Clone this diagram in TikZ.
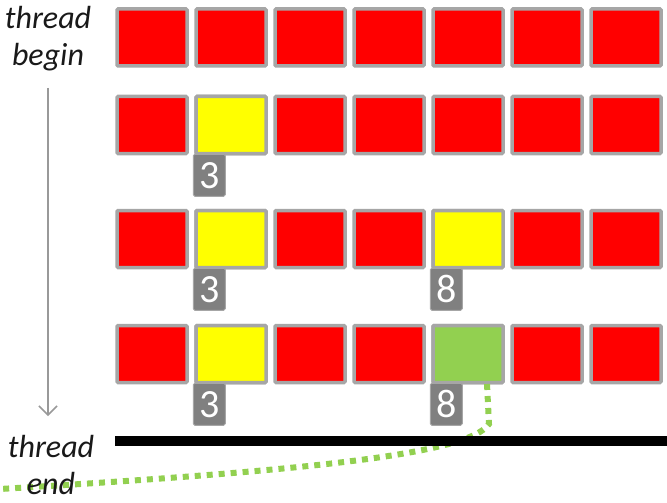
\documentclass[tikz,border=0pt]{standalone}
\usepackage{fontspec}
\setmainfont{Carlito}
\usetikzlibrary{arrows.meta}
\definecolor{cellred}{HTML}{FF0000}
\definecolor{cellyel}{HTML}{FFFF00}
\definecolor{cellgrn}{HTML}{92D050}
\definecolor{cellbrd}{HTML}{A6A6A6}
\definecolor{lblgray}{HTML}{808080}
\definecolor{arrgray}{HTML}{999999}
\tikzset{
  cell/.style={draw=cellbrd, line width=3.5pt, fill=cellred, minimum width=70pt, minimum height=57pt, inner sep=0pt, rounded corners=1pt},
  lbl/.style={draw=lblgray!70, line width=1pt, fill=lblgray, text=white, minimum width=32pt, minimum height=42pt, inner sep=0pt, anchor=north west, font=\fontsize{40}{40}\selectfont, rounded corners=1.5pt},
  sidetext/.style={align=center, font=\fontsize{32}{37}\itshape\selectfont, text=black!90, inner sep=1pt},
  timeline/.style={draw=arrgray, line width=1.5pt, -{Straight Barb[length=9pt,width=18pt,line width=1.5pt]}},
  endbar/.style={draw=black, line width=10pt},
  trace/.style={draw=cellgrn, line width=6pt, dash pattern=on 6pt off 6pt}
}
\begin{document}
\begin{tikzpicture}[x=1pt,y=-1pt]
\useasboundingbox (0,0) rectangle (667,503);
% rows of cells
\foreach \r/\yy in {1/37.5,2/125,3/239,4/354}{
  \foreach \c in {1,...,7}{
    \node[cell] (c\r-\c) at ({152+79*(\c-1)},\yy) {};
  }
}
% yellow and green cells
\node[cell, fill=cellyel] at (c2-2) {};
\node[cell, fill=cellyel] at (c3-2) {};
\node[cell, fill=cellyel] at (c3-5) {};
\node[cell, fill=cellyel] at (c4-2) {};
\node[cell, fill=cellgrn] (g) at (c4-5) {};
% labels
\node[lbl] (l2) at ([xshift=-1.5pt,yshift=1.5pt]c2-2.south west) {3};
\node[lbl] (l3a) at ([xshift=-1.5pt,yshift=1.5pt]c3-2.south west) {3};
\node[lbl] (l3b) at ([xshift=-1.5pt,yshift=1.5pt]c3-5.south west) {8};
\node[lbl] (l4a) at ([xshift=-1.5pt,yshift=1.5pt]c4-2.south west) {3};
\node[lbl] (l4b) at ([xshift=-1.5pt,yshift=1.5pt]c4-5.south west) {8};
% green trace (under the text)
\coordinate (t0) at (487,384);
\coordinate (t1) at (489,424);
\coordinate (t2) at (0,489);
\draw[trace] (t0) -- (t1) .. controls (468,455) and (300,471) .. (t2);
% side texts
\node[sidetext] (tb) at (48,39) {thread\\begin};
\node[sidetext] (te) at (51,465) {thread\\end};
% time arrow
\coordinate (a0) at (48,88);
\coordinate (a1) at (48,416);
\draw[timeline] (a0) -- (a1);
% end bar
\coordinate (b0) at (115,440.5);
\coordinate (b1) at (667,440.5);
\draw[endbar] (b0) -- (b1);
\end{tikzpicture}
\end{document}
